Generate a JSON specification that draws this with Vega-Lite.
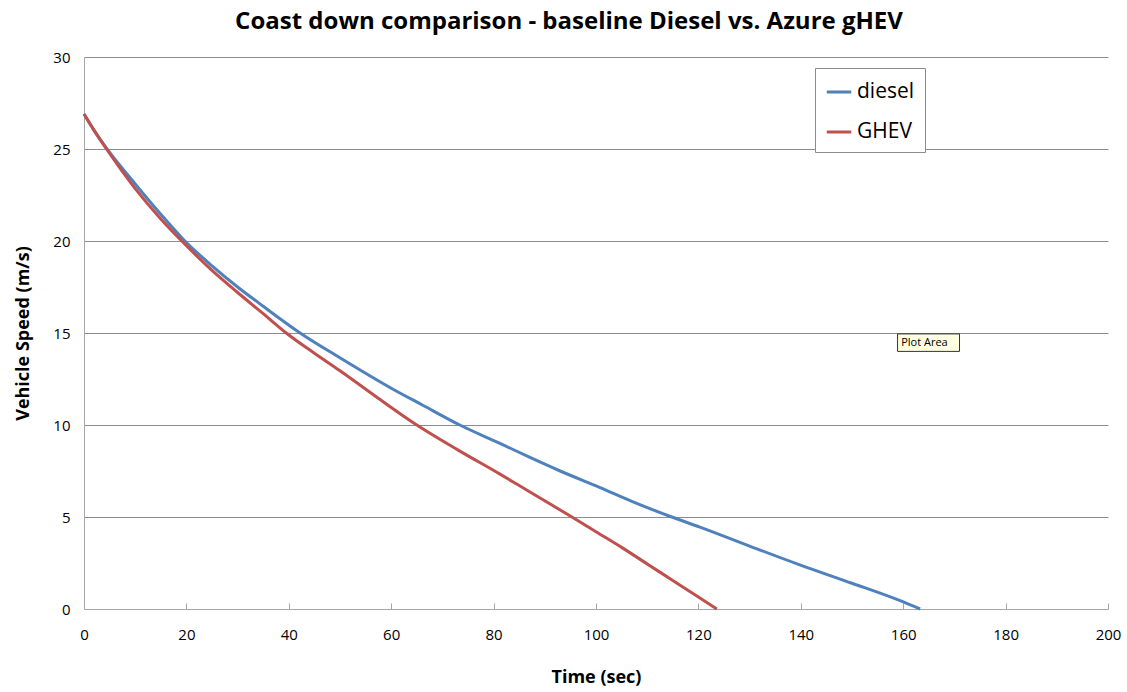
{
  "$schema": "https://vega.github.io/schema/vega-lite/v6.json",
  "autosize": "none",
  "width": 1024,
  "height": 552,
  "padding": {"left": 84, "top": 57, "right": 19, "bottom": 83},
  "background": "white",
  "title": {
    "text": "Coast down comparison - baseline Diesel vs. Azure gHEV",
    "font": "Open Sans",
    "fontSize": 24,
    "fontWeight": "bold",
    "color": "#000000",
    "anchor": "middle",
    "dx": -27,
    "offset": 16
  },
  "config": {
    "view": {"stroke": null},
    "axis": {
      "labelFont": "Open Sans",
      "titleFont": "Open Sans",
      "labelFontSize": 15,
      "titleFontSize": 18,
      "titleFontWeight": "bold",
      "labelColor": "#000000",
      "titleColor": "#000000",
      "domainColor": "#a6a6a6",
      "tickColor": "#a6a6a6",
      "gridColor": "#8c8c8c"
    }
  },
  "datasets": {
    "curves": [
      {"t": 0, "v": 26.9, "series": "diesel"},
      {"t": 2, "v": 26.0, "series": "diesel"},
      {"t": 4.5, "v": 25.0, "series": "diesel"},
      {"t": 10, "v": 23.1, "series": "diesel"},
      {"t": 15, "v": 21.45, "series": "diesel"},
      {"t": 19.7, "v": 20.0, "series": "diesel"},
      {"t": 25, "v": 18.65, "series": "diesel"},
      {"t": 30, "v": 17.5, "series": "diesel"},
      {"t": 35, "v": 16.45, "series": "diesel"},
      {"t": 42.2, "v": 15.0, "series": "diesel"},
      {"t": 50, "v": 13.65, "series": "diesel"},
      {"t": 60, "v": 12.0, "series": "diesel"},
      {"t": 66, "v": 11.1, "series": "diesel"},
      {"t": 73.4, "v": 10.0, "series": "diesel"},
      {"t": 81.25, "v": 9.0, "series": "diesel"},
      {"t": 87, "v": 8.25, "series": "diesel"},
      {"t": 93, "v": 7.5, "series": "diesel"},
      {"t": 100.8, "v": 6.6, "series": "diesel"},
      {"t": 107, "v": 5.85, "series": "diesel"},
      {"t": 114.8, "v": 5.0, "series": "diesel"},
      {"t": 120.3, "v": 4.45, "series": "diesel"},
      {"t": 130, "v": 3.42, "series": "diesel"},
      {"t": 139.8, "v": 2.4, "series": "diesel"},
      {"t": 150, "v": 1.4, "series": "diesel"},
      {"t": 159.4, "v": 0.45, "series": "diesel"},
      {"t": 163.3, "v": 0, "series": "diesel"},
      {"t": 0, "v": 26.9, "series": "GHEV"},
      {"t": 2, "v": 26.0, "series": "GHEV"},
      {"t": 4.4, "v": 25.0, "series": "GHEV"},
      {"t": 10, "v": 22.85, "series": "GHEV"},
      {"t": 15, "v": 21.2, "series": "GHEV"},
      {"t": 19.1, "v": 20.0, "series": "GHEV"},
      {"t": 25, "v": 18.4, "series": "GHEV"},
      {"t": 30, "v": 17.2, "series": "GHEV"},
      {"t": 35, "v": 16.05, "series": "GHEV"},
      {"t": 39.5, "v": 15.0, "series": "GHEV"},
      {"t": 45, "v": 13.9, "series": "GHEV"},
      {"t": 50, "v": 12.95, "series": "GHEV"},
      {"t": 57, "v": 11.55, "series": "GHEV"},
      {"t": 65, "v": 10.0, "series": "GHEV"},
      {"t": 73, "v": 8.65, "series": "GHEV"},
      {"t": 81.25, "v": 7.33, "series": "GHEV"},
      {"t": 87.1, "v": 6.36, "series": "GHEV"},
      {"t": 95.3, "v": 5.0, "series": "GHEV"},
      {"t": 100, "v": 4.2, "series": "GHEV"},
      {"t": 105, "v": 3.35, "series": "GHEV"},
      {"t": 110, "v": 2.45, "series": "GHEV"},
      {"t": 115, "v": 1.55, "series": "GHEV"},
      {"t": 120, "v": 0.65, "series": "GHEV"},
      {"t": 123.6, "v": 0, "series": "GHEV"}
    ],
    "note": [
      {"t0": 158.9, "t1": 171.0, "v0": 14.0, "v1": 14.95, "label": "Plot Area", "tm": 159.6, "vm": 14.47}
    ]
  },
  "layer": [
    {
      "data": {"name": "curves"},
      "mark": {"type": "line", "strokeWidth": 3, "interpolate": "monotone"},
      "encoding": {
        "x": {
          "field": "t", "type": "quantitative",
          "scale": {"domain": [0, 200], "nice": false, "zero": false},
          "axis": {
            "title": "Time (sec)",
            "values": [0, 20, 40, 60, 80, 100, 120, 140, 160, 180, 200],
            "grid": false,
            "ticks": true,
            "tickSize": -6,
            "labelFlush": false,
            "labelPadding": 24,
            "titlePadding": 26
          }
        },
        "y": {
          "field": "v", "type": "quantitative",
          "scale": {"domain": [0, 30], "nice": false},
          "axis": {
            "title": "Vehicle Speed (m/s)",
            "values": [0, 5, 10, 15, 20, 25, 30],
            "grid": true,
            "ticks": false,
            "labelFlush": false,
            "labelPadding": 14,
            "titlePadding": 20
          }
        },
        "color": {
          "field": "series", "type": "nominal",
          "scale": {"domain": ["diesel", "GHEV"], "range": ["#4f81bd", "#c0504d"]},
          "legend": {
            "title": null,
            "orient": "none",
            "legendX": 731,
            "legendY": 11,
            "symbolType": "stroke",
            "symbolSize": 600,
            "symbolStrokeWidth": 3,
            "labelFont": "Open Sans",
            "labelFontSize": 21,
            "labelColor": "#000000",
            "labelOffset": 4,
            "rowPadding": 16,
            "padding": 10,
            "strokeColor": "#8c8c8c",
            "fillColor": "white"
          }
        }
      }
    },
    {
      "data": {"name": "note"},
      "mark": {"type": "rect", "fill": "#ffffe1", "stroke": "#333333", "strokeWidth": 1},
      "encoding": {
        "x": {"field": "t0", "type": "quantitative"},
        "x2": {"field": "t1"},
        "y": {"field": "v0", "type": "quantitative"},
        "y2": {"field": "v1"}
      }
    },
    {
      "data": {"name": "note"},
      "mark": {"type": "text", "align": "left", "baseline": "middle", "font": "Open Sans", "fontSize": 11, "color": "#000000"},
      "encoding": {
        "x": {"field": "tm", "type": "quantitative"},
        "y": {"field": "vm", "type": "quantitative"},
        "text": {"field": "label"}
      }
    }
  ]
}
